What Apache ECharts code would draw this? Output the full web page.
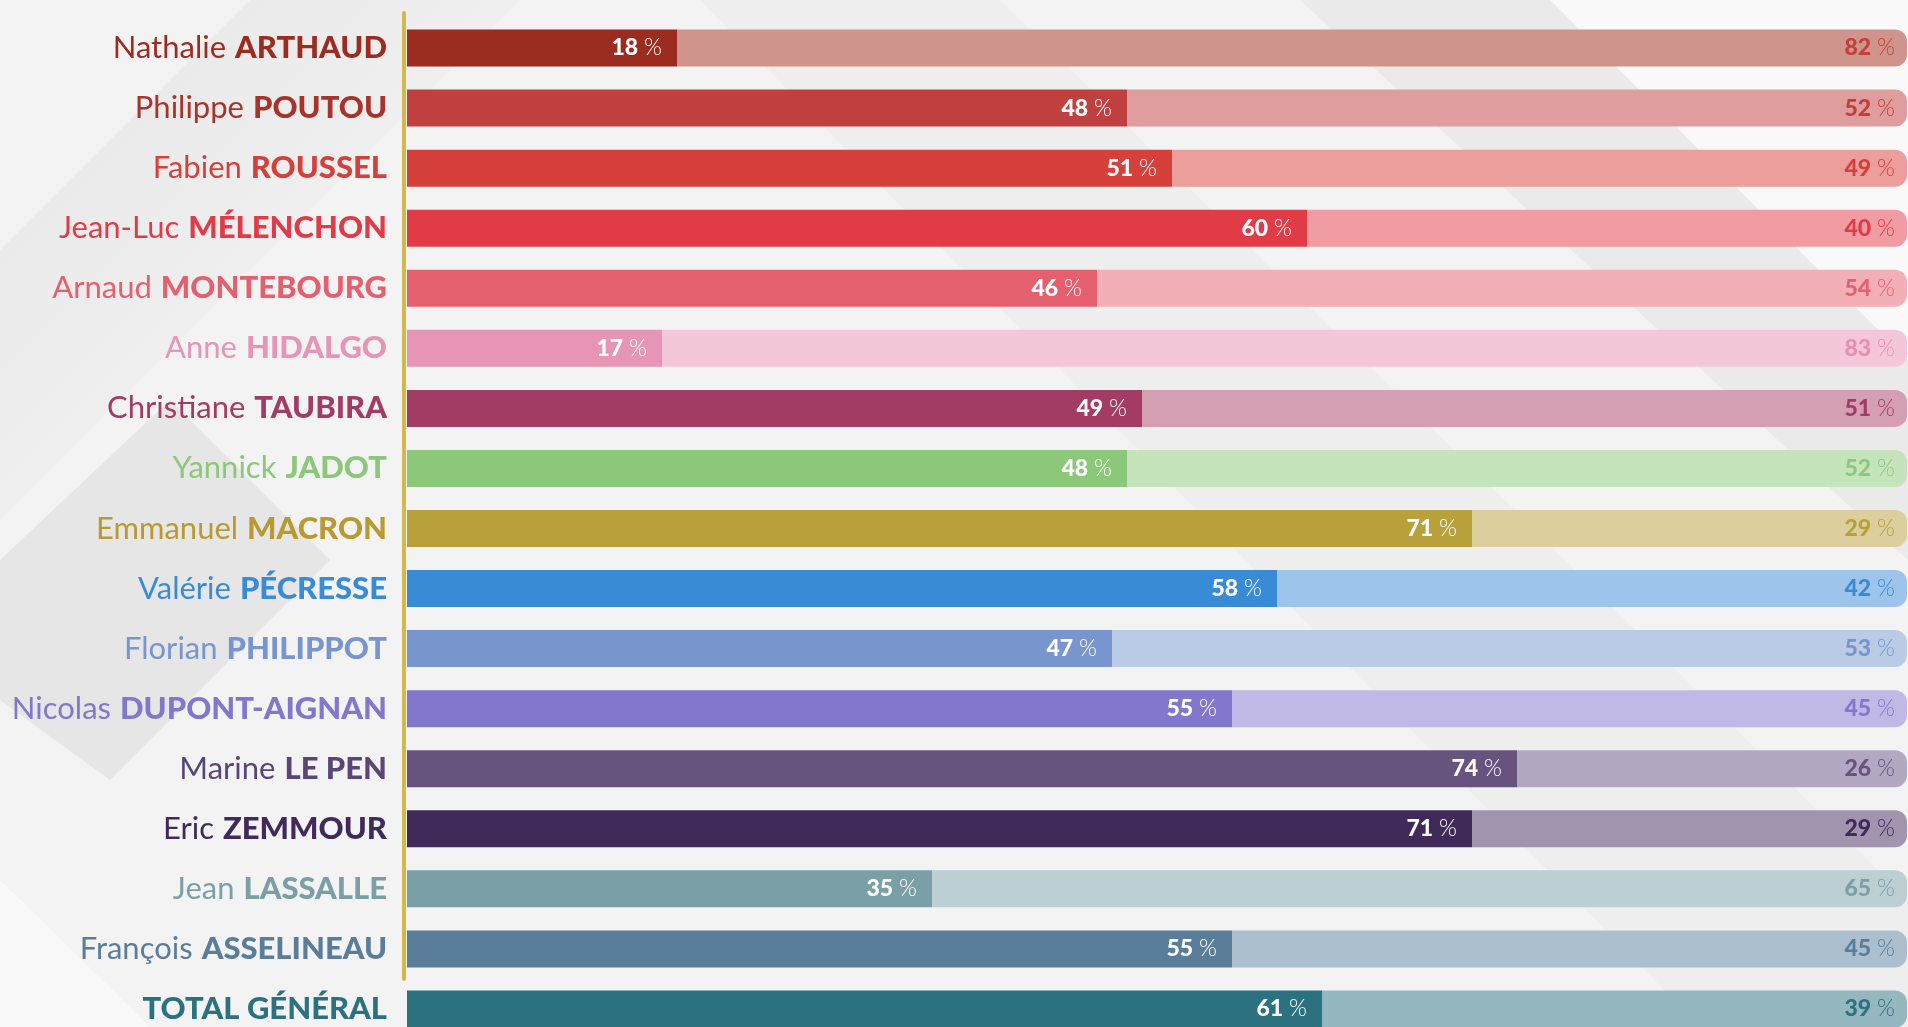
<!DOCTYPE html>
<html>
<head>
<meta charset="utf-8">
<script src="https://cdn.jsdelivr.net/npm/echarts@6/dist/echarts.min.js"></script>
<style>
html,body{margin:0;padding:0;background:#f3f3f3;}
#chart{width:1908px;height:1027px;}
</style>
</head>
<body>
<div id="chart"></div>
<script>
const firstNames = ['Nathalie','Philippe','Fabien','Jean-Luc','Arnaud','Anne','Christiane','Yannick','Emmanuel','Valérie','Florian','Nicolas','Marine','Eric','Jean','François',''];
const lastNames = ['ARTHAUD','POUTOU','ROUSSEL','MÉLENCHON','MONTEBOURG','HIDALGO','TAUBIRA','JADOT','MACRON','PÉCRESSE','PHILIPPOT','DUPONT-AIGNAN','LE PEN','ZEMMOUR','LASSALLE','ASSELINEAU','TOTAL GÉNÉRAL'];
const yesValues = [18,48,51,60,46,17,49,48,71,58,47,55,74,71,35,55,61];
const noValues  = [82,52,49,40,54,83,51,52,29,42,53,45,26,29,65,45,39];

const darkColors  = ['#9c2b20','#c04040','#d6403a','#e23b48','#e5606e','#e795b6','#a33c64','#8cc87a','#b8a03a','#3a8bd6','#7896cd','#8277cc','#66547f','#402a5a','#7aa0a6','#5a7e9a','#2c717f'];
const lightColors = ['#cf958c','#e09d9d','#ec9e9c','#f09ca2','#f2b0b6','#f3c6d9','#d49fb3','#c5e4bc','#dccf9d','#9dc4ea','#bacbe6','#c0b9e5','#b2a8c1','#a094ae','#bcd0d3','#abbfce','#95b8c0'];
const nameColors  = ['#9c2b20','#a8332a','#d6403a','#e23b48','#e5606e','#e795b6','#a33c64','#8cc87a','#b89a30','#3a8bd6','#7896cd','#8277cc','#5a4577','#402a5a','#7aa0a6','#5a7e9a','#2c717f'];
const noLabelColors = ['#c4403a','#c43c3c','#d6403a','#e23b48','#e5606e','#e58fb2','#a33c64','#8cc87a','#b8a03a','#3a8bd6','#7896cd','#8277cc','#66547f','#402a5a','#7aa0a6','#5a7e9a','#2c717f'];

const categories = firstNames.map((f, i) => (f ? f + ' ' : '') + lastNames[i]);

const FONT = 'Lato, "Open Sans", sans-serif';

const axisRich = {};
categories.forEach((c, i) => {
  axisRich['f' + i] = {color: nameColors[i], fontFamily: FONT, fontWeight: 400, fontSize: 31, padding: [0, 9, 0, 0]};
  axisRich['l' + i] = {color: nameColors[i], fontFamily: FONT, fontWeight: 900, fontSize: 31, letterSpacing: 0.5};
});

function valRich(color) {
  return {
    n: {color: color, fontFamily: FONT, fontWeight: 900, fontSize: 23},
    p: {color: color, fontFamily: FONT, fontWeight: 300, fontSize: 23, padding: [0, 0, 0, 6]}
  };
}

const chart = echarts.init(document.getElementById('chart'), null, {renderer: 'canvas'});

const bgGraphics = [
  {type:'polygon', z:-10, silent:true, shape:{points:[[0,250],[250,0],[520,0],[0,520]]},
   style:{fill:new echarts.graphic.LinearGradient(0,0,1,1,[{offset:0,color:'rgba(225,225,225,0.8)'},{offset:1,color:'rgba(240,240,240,0)'}])}},
  {type:'polygon', z:-10, silent:true, shape:{points:[[0,560],[170,400],[330,560],[110,780],[0,700]]},
   style:{fill:'rgba(224,224,224,0.7)'}},
  {type:'polygon', z:-10, silent:true, shape:{points:[[1550,0],[1908,0],[1908,360]]},
   style:{fill:'rgba(250,250,250,0.9)'}},
  {type:'polygon', z:-10, silent:true, shape:{points:[[1300,0],[1550,0],[1908,360],[1908,560]]},
   style:{fill:'rgba(228,228,228,0.6)'}},
  {type:'polygon', z:-10, silent:true, shape:{points:[[700,0],[1000,0],[1908,900],[1908,1027],[1700,1027]]},
   style:{fill:'rgba(232,232,232,0.45)'}},
  {type:'polygon', z:-10, silent:true, shape:{points:[[0,880],[150,1027],[0,1027]]},
   style:{fill:'rgba(250,250,250,0.9)'}}
];

const option = {
  backgroundColor: '#f3f3f3',
  animation: false,
  grid: {left: 407, right: 1, top: 18, height: 1021, containLabel: false, outerBoundsMode: 'none'},
  xAxis: {type: 'value', min: 0, max: 100, show: false},
  yAxis: {
    type: 'category', inverse: true, data: categories,
    axisLine: {show: false}, axisTick: {show: false}, splitLine: {show: false},
    axisLabel: {
      margin: 20,
      formatter: function (value, index) {
        const f = firstNames[index];
        return (f ? '{f' + index + '|' + f + '}' : '') + '{l' + index + '|' + lastNames[index] + '}';
      },
      rich: axisRich
    }
  },
  graphic: bgGraphics,
  series: [
    {
      type: 'bar', stack: 'a', barWidth: 37,
      data: yesValues.map((v, i) => ({
        value: v,
        itemStyle: {color: darkColors[i]},
        label: {rich: valRich('#ffffff')}
      })),
      label: {
        show: true, position: 'insideRight', distance: 15,
        formatter: p => '{n|' + p.value + '}{p|%}'
      }
    },
    {
      type: 'bar', stack: 'a', barWidth: 37,
      data: noValues.map((v, i) => ({
        value: v,
        itemStyle: {color: lightColors[i], borderRadius: [0, 12, 12, 0]},
        label: {rich: valRich(noLabelColors[i])}
      })),
      label: {
        show: true, position: 'insideRight', distance: 12,
        formatter: p => '{n|' + p.value + '}{p|%}'
      }
    }
  ]
};
chart.setOption(option);

// gold separator line along the candidate rows (not the total)
const firstY = chart.convertToPixel({yAxisIndex: 0}, categories[0]);
const lastY = chart.convertToPixel({yAxisIndex: 0}, categories[categories.length - 2]);
const x0 = chart.convertToPixel({xAxisIndex: 0}, 0);
chart.setOption({
  graphic: bgGraphics.concat([{
    type: 'line', z: 10, silent: true,
    shape: {x1: x0 - 3, y1: firstY - 35, x2: x0 - 3, y2: lastY + 30},
    style: {stroke: '#d4b94a', lineWidth: 4, lineCap: 'round'}
  }])
});
</script>
</body>
</html>
